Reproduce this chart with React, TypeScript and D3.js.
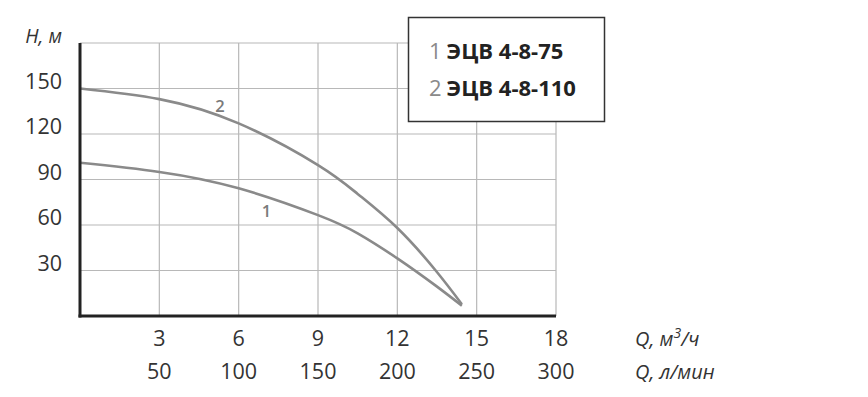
import React from "react";
import * as d3 from "d3";

const qValues = [0, 3, 6, 9, 10.5, 12, 13.45, 14.44];
const head1 = [101, 95, 84.2, 66.5, 54.5, 38, 20, 6.8];
const head2 = [150, 143, 127, 99.5, 80.5, 58, 30, 7.8];
const xTicksM3 = [3, 6, 9, 12, 15, 18];
const xTicksL = [50, 100, 150, 200, 250, 300];
const yTicks = [30, 60, 90, 120, 150];
const gridY = [30, 60, 90, 120, 150, 180];
const legendItems = [
  { n: "1", name: "ЭЦВ 4-8-75" },
  { n: "2", name: "ЭЦВ 4-8-110" },
];

const W = 868;
const H = 397;
const FONT = "'Open Sans', 'Noto Sans', sans-serif";

export default function App() {
  const x = d3.scaleLinear().domain([0, 18]).range([80, 556]);
  const y = d3.scaleLinear().domain([0, 180]).range([316, 43]);
  const line = d3
    .line<number>()
    .x((_, i) => x(qValues[i]))
    .y((d) => y(d))
    .curve(d3.curveNatural);

  const gridColor = "#b8b8b8";
  const curveColor = "#8a8a8a";
  const textColor = "#333";

  return (
    <svg
      width={W}
      height={H}
      style={{ position: "absolute", left: 0, top: 0, background: "#fff" }}
    >
      <rect x={0} y={0} width={W} height={H} fill="#fff" />
      {/* grid */}
      {xTicksM3.map((t) => (
        <line
          key={"gx" + t}
          x1={x(t)}
          x2={x(t)}
          y1={y(180)}
          y2={y(0)}
          stroke={gridColor}
          strokeWidth={1.2}
        />
      ))}
      {gridY.map((t) => (
        <line
          key={"gy" + t}
          x1={x(0)}
          x2={x(18)}
          y1={y(t)}
          y2={y(t)}
          stroke={gridColor}
          strokeWidth={1.2}
        />
      ))}
      {/* curves */}
      <path d={line(head1) || ""} fill="none" stroke={curveColor} strokeWidth={2.6} strokeLinejoin="round" />
      <path d={line(head2) || ""} fill="none" stroke={curveColor} strokeWidth={2.6} strokeLinejoin="round" />
      <text x={220} y={112} fill="#7a7a7a" fontFamily={FONT} fontSize={16.5} fontWeight={600} textAnchor="middle">2</text>
      <text x={266.5} y={217} fill="#7a7a7a" fontFamily={FONT} fontSize={16.5} fontWeight={600} textAnchor="middle">1</text>
      {/* axes */}
      <line x1={x(0)} x2={x(0)} y1={y(180)} y2={y(0) + 1.5} stroke="#222" strokeWidth={3} />
      <line x1={x(0) - 1.5} x2={x(18)} y1={y(0)} y2={y(0)} stroke="#222" strokeWidth={3} />
      {/* y ticks */}
      {yTicks.map((t) => (
        <text
          key={"yt" + t}
          x={62}
          y={y(t)}
          textAnchor="end"
          fontFamily={FONT}
          fontSize={21.5}
          fill={textColor}
        >
          {t}
        </text>
      ))}
      <text x={62} y={42.5} textAnchor="end" fontFamily={FONT} fontSize={19.5} fontStyle="italic" fill={textColor}>
        H, м
      </text>
      {/* x ticks */}
      {xTicksM3.map((t, i) => (
        <g key={"xt" + t}>
          <text x={x(t)} y={345.5} textAnchor="middle" fontFamily={FONT} fontSize={21.5} fill={textColor}>
            {t}
          </text>
          <text x={x(t)} y={378.5} textAnchor="middle" fontFamily={FONT} fontSize={21.5} fill={textColor}>
            {xTicksL[i]}
          </text>
        </g>
      ))}
      <text x={635} y={345.5} fontFamily={FONT} fontSize={20} fontStyle="italic" fill={textColor}>
        Q, м<tspan dy={-8} fontSize={14}>3</tspan><tspan dy={8}>/ч</tspan>
      </text>
      <text x={635} y={378.5} fontFamily={FONT} fontSize={20} fontStyle="italic" fill={textColor}>
        Q, л/мин
      </text>
      {/* legend */}
      <rect x={408.5} y={17.5} width={196} height={104} fill="#fff" stroke="#333" strokeWidth={1.5} />
      {legendItems.map((it, i) => (
        <text key={it.n} x={429} y={59 + i * 37} fontFamily={FONT} fontSize={22} fill="#222">
          <tspan fill="#8a8a8a">{it.n}</tspan>
          <tspan dx={5} fontWeight="bold">{it.name}</tspan>
        </text>
      ))}
    </svg>
  );
}
